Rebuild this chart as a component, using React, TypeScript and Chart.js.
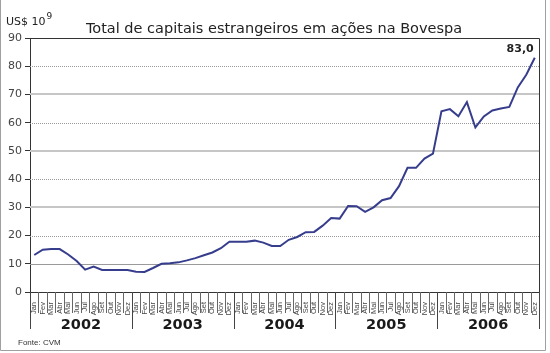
import React, { useEffect, useRef } from "react";
import { Chart, registerables } from "chart.js";

Chart.register(...registerables);

const monthNames = ["Jan", "Fev", "Mar", "Abr", "Mai", "Jun", "Jul", "Ago", "Set", "Out", "Nov", "Dez"];
const years = ["2002", "2003", "2004", "2005", "2006"];
const categories = years.flatMap((y) => monthNames.map((m) => `${m}`));

const values2002 = [13.1, 15.0, 15.2, 15.2, 13.3, 11.0, 7.9, 9.0, 7.8, 7.8, 7.8, 7.8];
const values2003 = [7.2, 7.1, 8.5, 10.0, 10.2, 10.5, 11.2, 12.0, 13.0, 14.0, 15.5, 17.8];
const values2004 = [17.8, 17.8, 18.2, 17.5, 16.3, 16.3, 18.5, 19.5, 21.2, 21.3, 23.5, 26.2];
const values2005 = [26.0, 30.5, 30.4, 28.4, 30.0, 32.5, 33.3, 37.5, 44.0, 44.0, 47.3, 49.0];
const values2006 = [64.0, 64.8, 62.3, 67.3, 58.3, 62.2, 64.3, 65.0, 65.6, 72.5, 77.0, 83.0];
const seriesValues = [...values2002, ...values2003, ...values2004, ...values2005, ...values2006];

const yTicks = [0, 10, 20, 30, 40, 50, 60, 70, 80, 90];
const title = "Total de capitais estrangeiros em ações na Bovespa";
const unitLabel = "US$ 10";
const unitExp = "9";
const sourceLabel = "Fonte: CVM";
const lastValueLabel = "83,0";

const decorPlugin = {
  id: "decor",
  beforeDatasetsDraw(chart: any) {
    const { ctx, chartArea } = chart;
    const y = chart.scales.y;
    ctx.save();
    yTicks.forEach((v) => {
      if (v === 0 || v === 90) return;
      const py = Math.round(y.getPixelForValue(v));
      ctx.beginPath();
      if (v % 20 === 0) {
        ctx.setLineDash([1, 1]);
        ctx.strokeStyle = "#999999";
        ctx.lineWidth = 1;
        ctx.moveTo(chartArea.left, py + 0.5);
        ctx.lineTo(chartArea.right, py + 0.5);
      } else {
        ctx.setLineDash([]);
        ctx.strokeStyle = v === 10 ? "#9a9a9a" : "#c6c6c6";
        ctx.lineWidth = v === 10 ? 1 : 2;
        const off = v === 10 ? 0.5 : 0;
        ctx.moveTo(chartArea.left, py + off);
        ctx.lineTo(chartArea.right, py + off);
      }
      ctx.stroke();
    });
    ctx.restore();
  },
  afterDraw(chart: any) {
    const { ctx, chartArea } = chart;
    const x = chart.scales.x;
    ctx.save();
    // plot frame
    ctx.strokeStyle = "#333333";
    ctx.lineWidth = 1;
    ctx.setLineDash([]);
    ctx.beginPath();
    ctx.moveTo(chartArea.left + 0.5, Math.round(chartArea.top) + 0.5);
    ctx.lineTo(Math.round(chartArea.right) + 0.5, Math.round(chartArea.top) + 0.5);
    ctx.lineTo(Math.round(chartArea.right) + 0.5, chartArea.bottom);
    ctx.stroke();
    // month separators
    const n = categories.length;
    const bottom = Math.round(chartArea.bottom);
    for (let i = 0; i <= n; i++) {
      let px;
      if (i === 0) px = chartArea.left;
      else if (i === n) px = chartArea.right;
      else px = (x.getPixelForValue(i - 1) + x.getPixelForValue(i)) / 2;
      px = Math.round(px) + 0.5;
      const isYear = i % 12 === 0;
      ctx.strokeStyle = isYear ? "#444444" : "#666666";
      ctx.beginPath();
      ctx.moveTo(px, bottom);
      ctx.lineTo(px, isYear ? bottom + 37 : bottom + 21);
      ctx.stroke();
    }
    // year labels
    ctx.fillStyle = "#1a1a1a";
    ctx.font = "bold 14.5px 'DejaVu Sans'";
    ctx.textAlign = "center";
    ctx.textBaseline = "alphabetic";
    years.forEach((yr, k) => {
      const cx = (x.getPixelForValue(k * 12) + x.getPixelForValue(k * 12 + 11)) / 2;
      ctx.fillText(yr, cx, bottom + 37);
    });
    // title
    ctx.fillStyle = "#222222";
    ctx.font = "14.5px 'DejaVu Sans'";
    ctx.textAlign = "center";
    ctx.fillText(title, 274, 33);
    // unit
    ctx.textAlign = "left";
    ctx.font = "11px 'DejaVu Sans'";
    ctx.fillText(unitLabel, 6, 25);
    const w = ctx.measureText(unitLabel).width;
    ctx.font = "9px 'DejaVu Sans'";
    ctx.fillText(unitExp, 6 + w + 1, 19);
    // source
    ctx.font = "8px 'Liberation Sans'";
    ctx.fillStyle = "#333333";
    ctx.fillText(sourceLabel, 18, 345);
    // last value
    const meta = chart.getDatasetMeta(0);
    const pt = meta.data[meta.data.length - 1];
    ctx.font = "bold 11px 'DejaVu Sans'";
    ctx.fillStyle = "#222222";
    ctx.textAlign = "right";
    ctx.fillText(lastValueLabel, pt.x - 1, pt.y - 6);
    // outer border
    ctx.strokeStyle = "#a0a0a0";
    ctx.beginPath();
    ctx.moveTo(0.5, 0);
    ctx.lineTo(0.5, 350.5);
    ctx.lineTo(545.5, 350.5);
    ctx.lineTo(545.5, 0);
    ctx.stroke();
    ctx.restore();
  },
};

export default function App() {
  const ref = useRef<HTMLCanvasElement | null>(null);
  useEffect(() => {
    if (!ref.current) return;
    const chart = new Chart(ref.current, {
      type: "line",
      data: {
        labels: categories,
        datasets: [
          {
            data: seriesValues,
            borderColor: "#363d8c",
            borderWidth: 2,
            pointRadius: 0,
            tension: 0,
            fill: false,
          },
        ],
      },
      options: {
        responsive: false,
        animation: false,
        devicePixelRatio: 1,
        layout: { padding: { left: 0, right: 11, top: 38, bottom: 0 } },
        plugins: { legend: { display: false }, tooltip: { enabled: false }, title: { display: false } },
        scales: {
          x: {
            type: "category",
            offset: true,
            grid: { display: false },
            border: { display: true, color: "#333333", width: 1 },
            ticks: {
              autoSkip: false,
              minRotation: 90,
              maxRotation: 90,
              padding: 2,
              color: "#444444",
              font: { family: "'Liberation Sans'", size: 7.5 },
            },
            afterFit: (s: any) => {
              s.height = 61;
            },
          },
          y: {
            min: 0,
            max: 90,
            afterBuildTicks: (s: any) => {
              s.ticks = yTicks.map((v) => ({ value: v }));
            },
            grid: { drawOnChartArea: false, drawTicks: true, tickLength: 5, tickColor: "#333333" },
            border: { display: true, color: "#333333", width: 1 },
            ticks: {
              padding: 3,
              color: "#444444",
              font: { family: "'DejaVu Sans'", size: 11 },
            },
            afterFit: (s: any) => {
              s.width = 30;
            },
          },
        },
      },
      plugins: [decorPlugin],
    });
    return () => chart.destroy();
  }, []);
  return (
    <div style={{ position: "absolute", left: 0, top: 0, width: 550, height: 353, background: "#fff" }}>
      <canvas ref={ref} width={550} height={353} style={{ display: "block" }} />
    </div>
  );
}
